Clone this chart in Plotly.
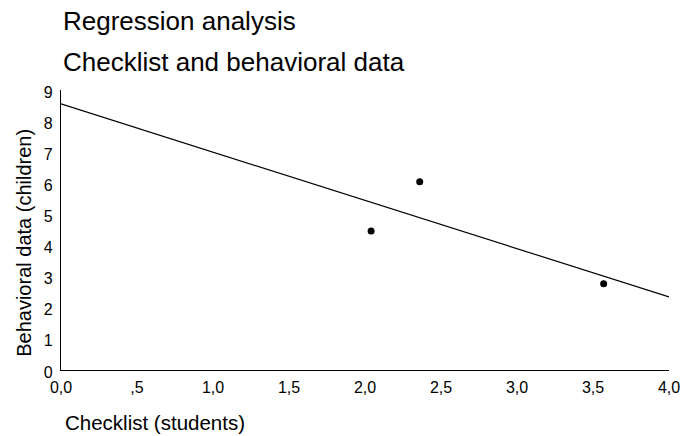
import plotly.graph_objects as go

# Data
checklist = [2.04, 2.36, 3.57]
behavior = [4.47, 6.05, 2.77]
fit_x = [0.0, 4.0]
fit_y = [8.555, 2.35]

x_tickvals = [0, 0.5, 1, 1.5, 2, 2.5, 3, 3.5, 4]
x_ticktext = ["0,0", ",5", "1,0", "1,5", "2,0", "2,5", "3,0", "3,5", "4,0"]
y_tickvals = [0, 1, 2, 3, 4, 5, 6, 7, 8, 9]

title1 = "Regression analysis"
title2 = "Checklist and behavioral data"
x_title = "Checklist (students)"
y_title = "Behavioral data (children)"

FONT = "Liberation Sans, Arial, sans-serif"

fig = go.Figure()
fig.add_trace(go.Scatter(x=fit_x, y=fit_y, mode="lines",
                         line=dict(color="black", width=1.2),
                         hoverinfo="skip", showlegend=False))
fig.add_trace(go.Scatter(x=checklist, y=behavior, mode="markers",
                         marker=dict(color="black", size=7),
                         showlegend=False))

fig.update_layout(
    width=682, height=436,
    margin=dict(l=61, r=13, t=90, b=66),
    paper_bgcolor="white", plot_bgcolor="white",
    font=dict(family=FONT, color="black", size=16),
    xaxis=dict(range=[0, 4], tickvals=x_tickvals, ticktext=x_ticktext,
               showline=True, linecolor="black", linewidth=1.2,
               showgrid=False, zeroline=False, ticks="",
               ticklabelstandoff=3, automargin=False,
               tickfont=dict(size=16), fixedrange=True),
    yaxis=dict(range=[0, 9], tickvals=y_tickvals,
               showline=True, linecolor="black", linewidth=1.2,
               showgrid=False, zeroline=False, ticks="",
               ticklabelstandoff=4, ticklabelshift=2, automargin=False,
               tickfont=dict(size=16), fixedrange=True),
    annotations=[
        dict(text=title1, xref="paper", yref="paper", x=0, y=1.245,
             xanchor="left", yanchor="middle", showarrow=False,
             font=dict(size=26)),
        dict(text=title2, xref="paper", yref="paper", x=0, y=1.10,
             xanchor="left", yanchor="middle", showarrow=False,
             font=dict(size=26)),
        dict(text=x_title, xref="paper", yref="paper", x=0.003, y=-0.189,
             xanchor="left", yanchor="middle", showarrow=False,
             font=dict(size=20.5)),
        dict(text=y_title, xref="paper", yref="paper", x=-0.061, y=0.454,
             xanchor="center", yanchor="middle", textangle=-90,
             showarrow=False, font=dict(size=20)),
    ],
)

# remove the default page margin so the 682x436 figure fills the window
fig.write_html(
    "out.html",
    config={"displayModeBar": False},
    post_script="document.body.style.margin='0';"
                "document.body.style.overflow='hidden';",
)
